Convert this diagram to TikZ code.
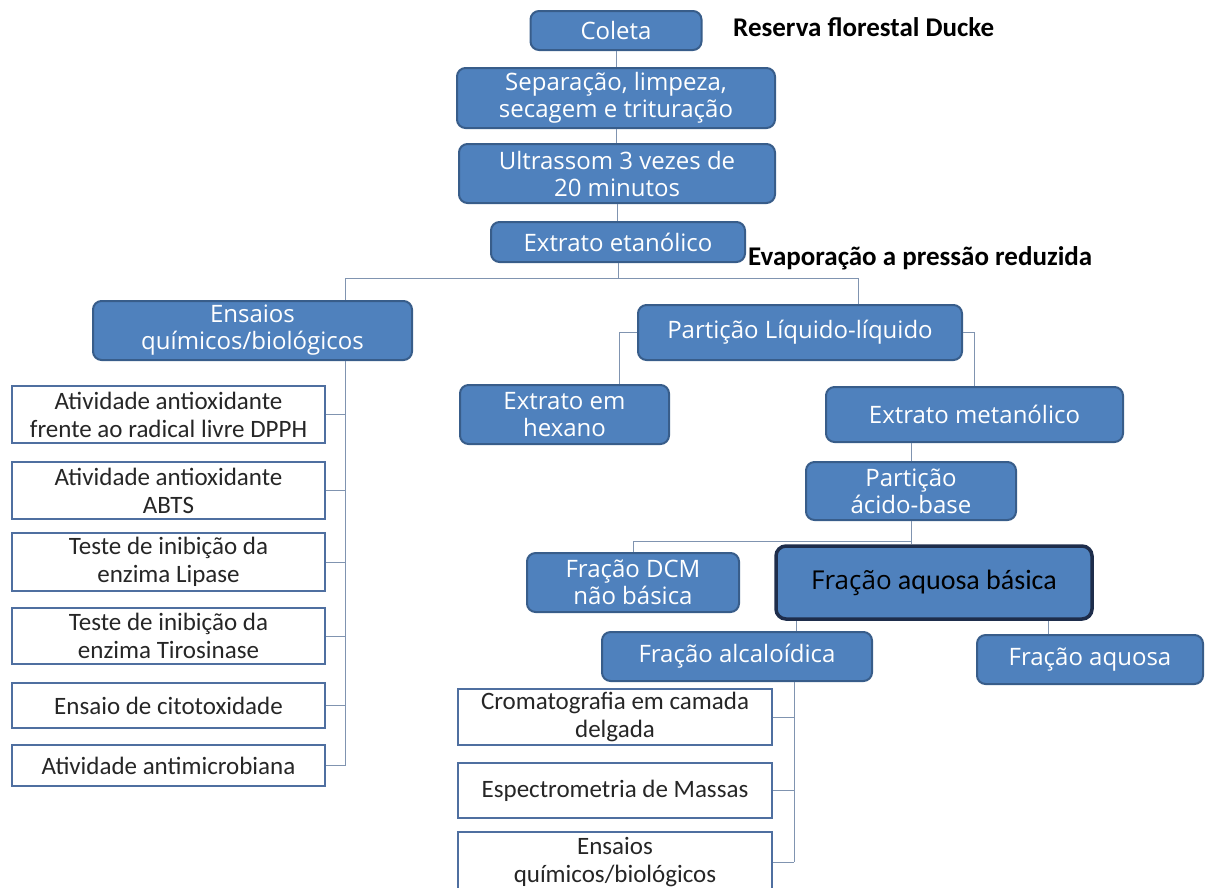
\documentclass[tikz,border=0pt]{standalone}
\usepackage{fontspec}
\setmainfont{Carlito}
\newfontfamily\comicfont{Open Sans}
\usetikzlibrary{positioning}
\definecolor{boxblue}{RGB}{79,129,189}
\definecolor{boxedge}{RGB}{56,93,138}
\definecolor{assayedge}{RGB}{79,111,160}
\definecolor{linkgray}{RGB}{128,148,176}
\definecolor{darkedge}{RGB}{30,45,75}

\begin{document}
\begin{tikzpicture}[x=1pt, y=-1pt,
    process/.style={rectangle, draw=boxedge, line width=2pt, rounded corners=3mm, fill=boxblue,
        text=white, align=center, inner sep=0pt, font=\comicfont\fontsize{24}{27}\selectfont},
    assay/.style={rectangle, draw=assayedge, line width=2.5pt, fill=white, text=black!85,
        align=center, inner sep=0pt, minimum width=313, font=\fontsize{25}{28}\selectfont},
    note/.style={anchor=west, inner sep=0pt, font=\bfseries\fontsize{27}{30}\selectfont},
    link/.style={draw=linkgray, line width=1pt}
]
\useasboundingbox (0,0) rectangle (1208,887);

% main line
\node (P00) [process, minimum width=171, minimum height=39] at (616,30.5) {Coleta};
\node (P01) [process, minimum width=318, minimum height=60] at (616,98) {Separação, limpeza,\\secagem e trituração};
\node (P02) [process, minimum width=316, minimum height=59] at (617,173.5) {Ultrassom 3 vezes de\\20 minutos};
\node (P03) [process, minimum width=254, minimum height=40] at (618,242) {Extrato etanólico};
\node (L01) [note] at (733,27) {Reserva florestal Ducke};
\node (L02) [note] at (748,258) {Evaporação a pressão reduzida};

% left branch
\node (P04) [process, minimum width=319, minimum height=59] at (252.5,330.5) {Ensaios\\químicos/biológicos};
\node (T01) [assay, minimum height=57] at (168.5,414.5) {Atividade antioxidante\\frente ao radical livre DPPH};
\node (T02) [assay, minimum height=57] at (168.5,490.5) {Atividade antioxidante\\ABTS};
\node (T03) [assay, minimum height=58] at (168.5,562) {Teste de inibição da\\enzima Lipase};
\node (T04) [assay, minimum height=56] at (168.5,636) {Teste de inibição da\\enzima Tirosinase};
\node (T05) [assay, minimum height=45] at (168.5,705.5) {Ensaio de citotoxidade};
\node (T06) [assay, minimum height=41] at (168.5,765.5) {Atividade antimicrobiana};

% right branch
\node (P05) [process, minimum width=324, minimum height=55] at (800,332.5) {Partição Líquido-líquido};
\node (P06) [process, minimum width=209, minimum height=59] at (564.5,414.5) {Extrato em\\hexano};
\node (P07) [process, minimum width=297, minimum height=55] at (974.5,414.5) {Extrato metanólico};
\node (P08) [process, minimum width=210, minimum height=58] at (911,491) {Partição\\ácido-base};
\node (P09) [process, minimum width=212, minimum height=59] at (633,582.5) {Fração DCM\\não básica};
\node (P10) [process, minimum width=316, minimum height=73, draw=darkedge, line width=3.5pt,
    rounded corners=3.5mm, text=black] at (934,582.5)
    {{\fontsize{26}{28}\selectfont Fração} {\rmfamily\fontsize{28}{30}\selectfont aquosa básica}};
\node (P11) [process, minimum width=270, minimum height=49] at (737,656.5) {Fração alcaloídica};
\node (P12) [process, minimum width=226, minimum height=49] at (1090,659.5) {Fração aquosa};
\node (A01) [assay, minimum width=314, minimum height=56] at (615,717) {Cromatografia em camada\\delgada};
\node (A02) [assay, minimum width=314, minimum height=55] at (615,790.5) {Espectrometria de Massas};
\node (A03) [assay, minimum width=314, minimum height=60] at (615,862) {Ensaios\\químicos/biológicos};

% connectors
\coordinate (B01) at (345,278);
\coordinate (B02) at (858,278);
\coordinate (B03) at ([yshift=-20pt]P08.south);
\coordinate (B04) at ([xshift=57pt]P11.south);
\draw [link] (P00.south) -- (P00.south |- P01.north);
\draw [link] (P01.south) -- (P01.south |- P02.north);
\draw [link] (P02.south) -- (P02.south |- P03.north);
\draw [link] (P03.south) -- (P03.south |- B01);
\draw [link] (B01) -- (B02);
\draw [link] (B01) -- (B01 |- P04.north);
\draw [link] (B02) -- (B02 |- P05.north);
\draw [link] (B01 |- P04.south) -- (B01 |- T06.east);
\foreach \t in {T01,T02,T03,T04,T05,T06}
    \draw [link] (\t.east) -- (\t.east -| B01);
\draw [link] (P05.west) -| ([xshift=55pt]P06.north);
\draw [link] (P05.east) -| (P07.north);
\draw [link] (P08.north) -- (P08.north |- P07.south);
\draw [link] (P08.south) -- (B03) -| (P09.north);
\draw [link] (B03) -- (B03 |- P10.north);
\draw [link] ([xshift=59pt]P11.north) -- ([xshift=59pt]P11.north |- P10.south);
\draw [link] ([xshift=-42pt]P12.north) -- ([xshift=-42pt]P12.north |- P10.south);
\draw [link] (B04) -- (B04 |- A03.east);
\foreach \a in {A01,A02,A03}
    \draw [link] (\a.east) -- (\a.east -| B04);
\end{tikzpicture}
\end{document}
